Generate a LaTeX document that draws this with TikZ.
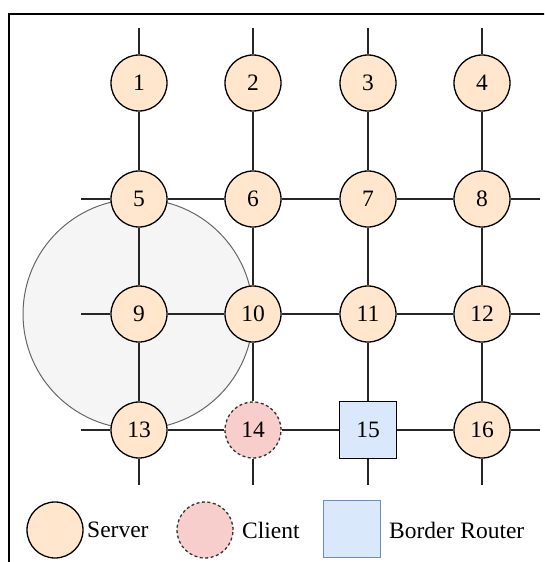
\documentclass[tikz,border=0pt]{standalone}
\usepackage{fontspec}
\setmainfont{Liberation Serif}
\definecolor{srvfill}{HTML}{FFE6CC}
\definecolor{clifill}{HTML}{F8CECC}
\definecolor{brfill}{HTML}{DAE8FC}
\definecolor{brline}{HTML}{6C8EBF}
\definecolor{zonefill}{HTML}{F5F5F5}
\definecolor{zoneline}{HTML}{666666}
\begin{document}
\begin{tikzpicture}[x=1pt,y=-1pt,
  every node/.style={font=\fontsize{23.5}{26}\selectfont, inner sep=0pt},
  server/.style={circle, draw=black, line width=1.3pt, fill=srvfill, minimum size=56pt},
  client/.style={circle, draw=black!80, dash pattern=on 3pt off 2.5pt, line width=1.3pt, fill=clifill, minimum size=56pt},
  router/.style={rectangle, draw=black, line width=1.3pt, fill=brfill, minimum size=57pt},
  link/.style={line width=1.2pt, black!85},
  legtext/.style={anchor=west}]
\useasboundingbox (0,0) rectangle (544,562);
% outer frame, running past the right and bottom edges
\begin{scope}
\clip (0,0) rectangle (544,562);
\draw[line width=1.4pt] (9,14) rectangle (600,620);
\end{scope}

% coverage zone around node 9
\fill[zonefill, draw=zoneline, line width=1pt] (138,314) circle (115);

% mesh nodes
\node[server] (n1) at (139,83) {1};
\node[server] (n2) at (253,83) {2};
\node[server] (n3) at (368,83) {3};
\node[server] (n4) at (482,83) {4};
\node[server] (n5) at (139,199) {5};
\node[server] (n6) at (253,199) {6};
\node[server] (n7) at (368,199) {7};
\node[server] (n8) at (482,199) {8};
\node[server] (n9) at (139,314) {9};
\node[server] (n10) at (253,314) {10};
\node[server] (n11) at (368,314) {11};
\node[server] (n12) at (482,314) {12};
\node[server] (n13) at (139,430) {13};
\node[client] (n14) at (253,430) {14};
\node[router] (n15) at (368,430) {15};
\node[server] (n16) at (482,430) {16};

% free ends of the stub links
\foreach \c [count=\i] in {139,253,368,482} {
  \coordinate (top\i) at (\c,28);
  \coordinate (bot\i) at (\c,485);
}
\foreach \r [count=\j from 2] in {199,314,430} {
  \coordinate (lft\j) at (81,\r);
  \coordinate (rgt\j) at (540,\r);
}

% links between neighbours and out to the free ends
\foreach \a/\b in {top1/n1,top2/n2,top3/n3,top4/n4,
                   n1/n5,n2/n6,n3/n7,n4/n8,
                   n5/n9,n6/n10,n7/n11,n8/n12,
                   n9/n13,n10/n14,n11/n15,n12/n16,
                   n13/bot1,n14/bot2,n15/bot3,n16/bot4,
                   lft2/n5,n5/n6,n6/n7,n7/n8,n8/rgt2,
                   lft3/n9,n9/n10,n10/n11,n11/n12,n12/rgt3,
                   lft4/n13,n13/n14,n14/n15,n15/n16,n16/rgt4}
  \draw[link] (\a) -- (\b);

% legend
\node[server] (ls) at (55,530) {};
\node[legtext] (lst) at (87,530) {Server};
\node[client] (lc) at (205,530) {};
\node[legtext] (lct) at (242,530) {Client};
\node[router, draw=brline] (lr) at (352,529) {};
\node[legtext] (lrt) at (389,530) {Border Router};
\end{tikzpicture}
\end{document}
